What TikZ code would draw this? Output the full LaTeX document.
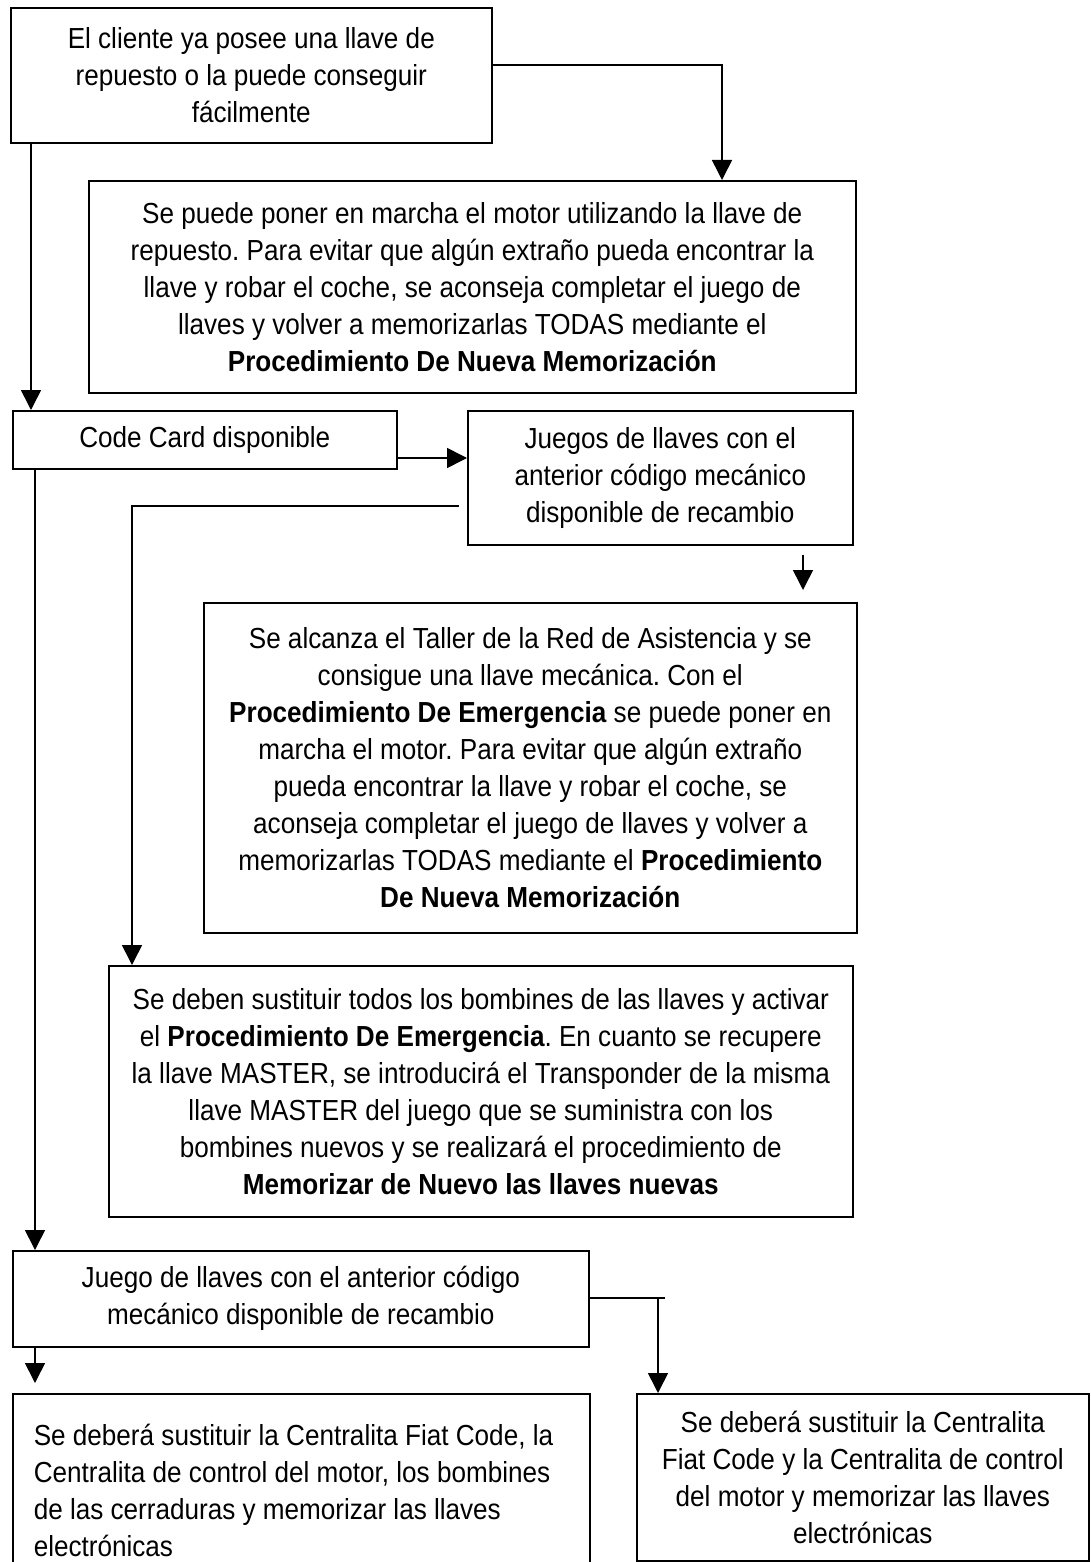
\documentclass[tikz,border=0pt]{standalone}
\usepackage{fontspec}
\setmainfont[FakeStretch=0.9]{Liberation Sans}
\usetikzlibrary{arrows.meta,calc}
\frenchspacing
\begin{document}
\begin{tikzpicture}[x=1pt,y=-1pt,
  box/.style={draw, line width=1.6pt, inner sep=0pt, anchor=north west, align=center,
    font=\fontsize{29}{37}\selectfont},
  ln/.style={line width=1.6pt},
  arr/.style={line width=1.6pt, -{Triangle[length=20pt,width=20pt]}}]
\useasboundingbox (0,0) rectangle (1090,1562);

\node[box, minimum width=481pt, minimum height=135pt] (A) at (10,7)
  {El cliente ya posee una llave de\\repuesto o la puede conseguir\\fácilmente};
\node[box, minimum width=767pt, minimum height=212pt] (B) at (88,180)
  {Se puede poner en marcha el motor utilizando la llave de\\repuesto. Para evitar que algún extraño pueda encontrar la\\llave y robar el coche, se aconseja completar el juego de\\llaves y volver a memorizarlas TODAS mediante el\\\textbf{Procedimiento De Nueva Memorización}};
\node[box, minimum width=384pt, minimum height=58pt] (C) at (12,410)
  {Code Card disponible};
\node[box, minimum width=385pt, minimum height=134pt] (D) at (467,410)
  {Juegos de llaves con el\\anterior código mecánico\\disponible de recambio};
\node[box, minimum width=653pt, minimum height=330pt] (E) at (203,602)
  {Se alcanza el Taller de la Red de Asistencia y se\\consigue una llave mecánica. Con el\\\textbf{Procedimiento De Emergencia} se puede poner en\\marcha el motor. Para evitar que algún extraño\\pueda encontrar la llave y robar el coche, se\\aconseja completar el juego de llaves y volver a\\memorizarlas TODAS mediante el \textbf{Procedimiento}\\\textbf{De Nueva Memorización}};
\node[box, minimum width=744pt, minimum height=251pt] (F) at (108,965)
  {Se deben sustituir todos los bombines de las llaves y activar\\el \textbf{Procedimiento De Emergencia}. En cuanto se recupere\\la llave MASTER, se introducirá el Transponder de la misma\\llave MASTER del juego que se suministra con los\\bombines nuevos y se realizará el procedimiento de\\\textbf{Memorizar de Nuevo las llaves nuevas}};
\node[box, minimum width=576pt, minimum height=96pt] (G) at (12,1250)
  {Juego de llaves con el anterior código\\mecánico disponible de recambio};
\node[box, align=flush left, text width=535pt, inner xsep=21pt, minimum height=194pt] (I) at (12,1393)
  {Se deberá sustituir la Centralita Fiat Code, la\\Centralita de control del motor, los bombines\\de las cerraduras y memorizar las llaves\\electrónicas};
\node[box, minimum width=452pt, minimum height=167pt] (H) at (636,1393)
  {Se deberá sustituir la Centralita\\Fiat Code y la Centralita de control\\del motor y memorizar las llaves\\electrónicas};

% helper coordinates
\coordinate (yAB) at (0,65);
\coordinate (xAB) at (722,0);
\coordinate (xL1) at (31,0);
\coordinate (xL2) at (35,0);
\coordinate (yCD) at (0,458);
\coordinate (yDF) at (0,506);
\coordinate (xDF) at (132,0);
\coordinate (xDE) at (803,0);
\coordinate (gR) at (665,1298);
\coordinate (gJ) at (658,1298);

\coordinate (dL) at ($(D.west |- yDF)+(-8,0)$);
\coordinate (de1) at ($(D.south -| xDE)+(0,9)$);
\coordinate (de2) at ($(E.north -| xDE)+(0,-12)$);
\coordinate (gi2) at ($(I.north -| xL2)+(0,-10)$);

\draw[arr] (A.east |- yAB) -| (B.north -| xAB);
\draw[arr] (A.south -| xL1) -- (C.north -| xL1);
\draw[arr] (C.east |- yCD) -- (D.west |- yCD);
\draw[arr] (dL) -| (F.north -| xDF);
\draw[arr] (de1) -- (de2);
\draw[arr] (C.south -| xL2) -- (G.north -| xL2);
\draw[arr] (G.south -| xL2) -- (gi2);
\draw[ln] (G.east |- gR) -- (gR);
\draw[arr] (gJ) -- (H.north -| gJ);
\end{tikzpicture}
\end{document}
